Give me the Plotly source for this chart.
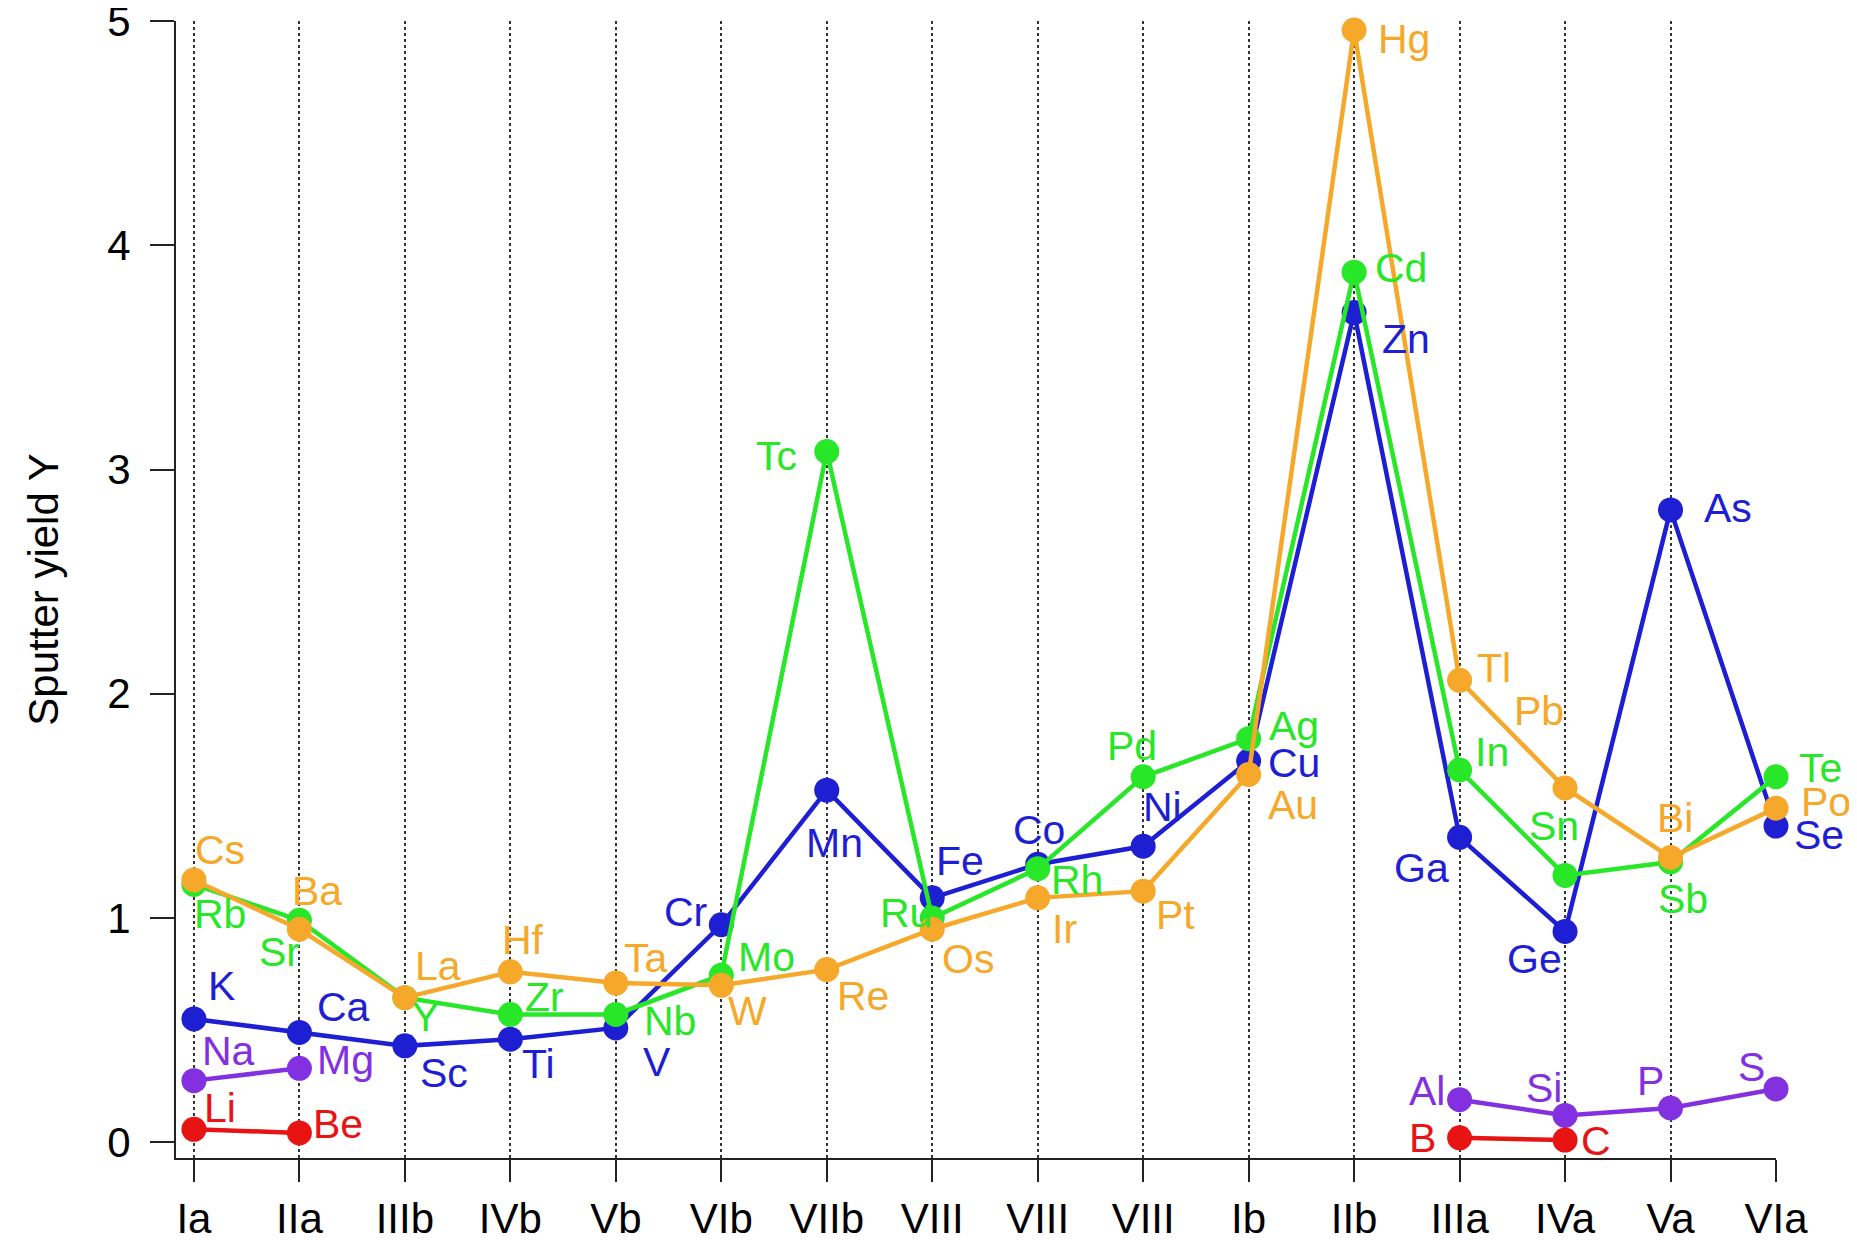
import plotly.graph_objects as go

# ---- data ----
groups = ["Ia", "IIa", "IIIb", "IVb", "Vb", "VIb", "VIIb", "VIII", "VIII", "VIII",
          "Ib", "IIb", "IIIa", "IVa", "Va", "VIa"]

p2_names = ["Li", "Be", None, None, None, None, None, None, None, None, None, None, "B", "C", None, None]
p2_yield = [0.058, 0.042, None, None, None, None, None, None, None, None, None, None, 0.02, 0.01, None, None]

p3_names = ["Na", "Mg", None, None, None, None, None, None, None, None, None, None, "Al", "Si", "P", "S"]
p3_yield = [0.275, 0.33, None, None, None, None, None, None, None, None, None, None, 0.19, 0.12, 0.153, 0.238]

p4_names = ["K", "Ca", "Sc", "Ti", "V", "Cr", "Mn", "Fe", "Co", "Ni", "Cu", "Zn", "Ga", "Ge", "As", "Se"]
p4_yield = [0.55, 0.49, 0.43, 0.46, 0.51, 0.97, 1.57, 1.09, 1.24, 1.32, 1.70, 3.70, 1.36, 0.94, 2.82, 1.41]

p5_names = ["Rb", "Sr", "Y", "Zr", "Nb", "Mo", "Tc", "Ru", "Rh", "Pd", "Ag", "Cd", "In", "Sn", "Sb", "Te"]
p5_yield = [1.15, 0.99, 0.645, 0.57, 0.57, 0.745, 3.08, 1.00, 1.22, 1.63, 1.80, 3.88, 1.66, 1.19, 1.25, 1.63]

p6_names = ["Cs", "Ba", "La", "Hf", "Ta", "W", "Re", "Os", "Ir", "Pt", "Au", "Hg", "Tl", "Pb", "Bi", "Po"]
p6_yield = [1.17, 0.95, 0.645, 0.76, 0.71, 0.70, 0.77, 0.95, 1.09, 1.12, 1.64, 4.96, 2.06, 1.58, 1.27, 1.49]

# ---- style ----
colors = {"p2": "#E81414", "p3": "#8230E0", "p4": "#1E1ED2", "p5": "#28E628", "p6": "#F5A82A"}

# label offsets in pixels (xshift, yshift) relative to the marker
label_offsets = {
    "Cs": (26, 30), "Rb": (26, -30), "K": (28, 33), "Na": (35, 30), "Li": (26, 21),
    "Ba": (18, 38), "Sr": (-20, -32), "Ca": (44, 25), "Mg": (46, 8), "Be": (39, 9),
    "La": (33, 32), "Y": (21, -19), "Sc": (39, -27),
    "Hf": (13, 32), "Zr": (34, 17), "Ti": (28, -25),
    "Ta": (30, 25), "Nb": (54, -7), "V": (41, -34),
    "Cr": (-36, 13), "Mo": (45, 18), "W": (26, -26),
    "Tc": (-50, -4), "Mn": (8, -53), "Re": (36, -26),
    "Fe": (28, 37), "Ru": (-26, 5), "Os": (36, -30),
    "Co": (1, 34), "Rh": (39, -11), "Ir": (27, -31),
    "Pd": (-11, 31), "Ni": (19, 39), "Pt": (32, -24),
    "Ag": (45, 13), "Cu": (45, -2), "Au": (44, -30),
    "Hg": (50, -9), "Cd": (47, 4), "Zn": (52, -26),
    "Tl": (34, 12), "Pb": (-26, 77), "In": (32, 18), "Ga": (-38, -31), "Al": (-33, 9), "B": (-37, 0),
    "Sn": (-11, 49), "Ge": (-31, -27), "Si": (-21, 27), "C": (31, -1),
    "As": (57, 2), "Bi": (4, 39), "Sb": (12, -37), "P": (-20, 27),
    "Te": (44, 9), "Po": (50, 6), "Se": (43, -9), "S": (-25, 22),
}

FONT = "Liberation Sans, Arial, sans-serif"
xs = list(range(len(groups)))

series = [
    ("p3", p3_names, p3_yield),
    ("p2", p2_names, p2_yield),
    ("p4", p4_names, p4_yield),
    ("p5", p5_names, p5_yield),
    ("p6", p6_names, p6_yield),
]

fig = go.Figure()
annotations = []
for key, names, vals in series:
    c = colors[key]
    fig.add_trace(go.Scatter(
        x=xs, y=vals, mode="lines+markers",
        line=dict(color=c, width=4.5),
        marker=dict(color=c, size=25),
        connectgaps=False, cliponaxis=False, showlegend=False,
        hoverinfo="skip",
    ))
    for xi, nm, v in zip(xs, names, vals):
        if nm is None or v is None:
            continue
        dx, dy = label_offsets.get(nm, (30, 0))
        annotations.append(dict(
            x=xi, y=v, xref="x", yref="y", text=nm, showarrow=False,
            xshift=dx, yshift=dy, font=dict(family=FONT, size=41, color=c),
        ))

fig.update_layout(
    width=1857, height=1241,
    margin=dict(l=168, r=89, t=13, b=91),
    paper_bgcolor="white", plot_bgcolor="white",
    font=dict(family=FONT, color="black"),
    annotations=annotations,
    showlegend=False,
)
fig.update_xaxes(
    range=[-0.17, 15], tickmode="array", tickvals=xs, ticktext=groups,
    showgrid=True, gridcolor="#333333", griddash="dot", gridwidth=1.5,
    zeroline=False, showline=True, linecolor="#222222", linewidth=2,
    ticks="outside", ticklen=22, tickwidth=1.5, tickcolor="#222222",
    tickfont=dict(family=FONT, size=42, color="black"),
    ticklabelstandoff=1, automargin=False, ticklabeloverflow="allow",
)
fig.update_yaxes(
    range=[-0.07, 5], tickmode="array", tickvals=[0, 1, 2, 3, 4, 5],
    showgrid=False, zeroline=False, showline=True, linecolor="#222222", linewidth=2,
    ticks="outside", ticklen=24, tickwidth=1.5, tickcolor="#222222",
    tickfont=dict(family=FONT, size=42, color="black"),
    ticklabelstandoff=11, automargin=False, ticklabeloverflow="allow",
    title=dict(text="Sputter yield Y", font=dict(family=FONT, size=42, color="black"), standoff=36),
)

fig.write_html("out.html")
